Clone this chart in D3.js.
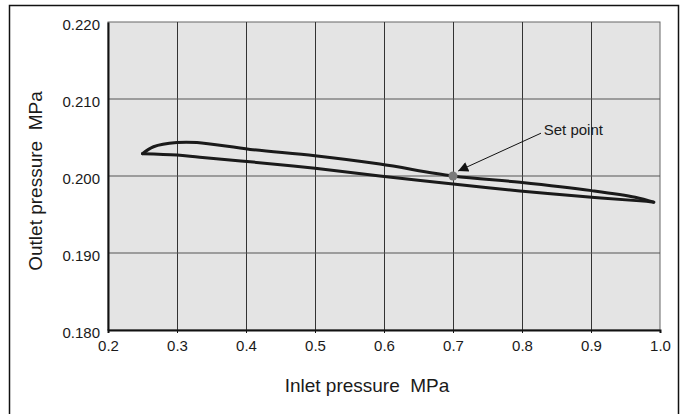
<!DOCTYPE html>
<html>
<head>
<meta charset="utf-8">
<script src="https://cdn.jsdelivr.net/npm/d3@7"></script>
<style>
  body { margin: 0; background: #fff; }
  text { font-family: "Liberation Sans", Arial, sans-serif; fill: #1a1a1a; }
</style>
</head>
<body>
<div id="chart"></div>
<script>
// upper branch of the loop (rising pressure), left to right
var upperX = [0.250, 0.266, 0.300, 0.329, 0.406, 0.500, 0.594, 0.700, 0.797, 0.901, 0.964, 0.991];
var upperY = [0.2029, 0.2038, 0.20435, 0.20435, 0.20345, 0.20263, 0.20155, 0.2000, 0.19918, 0.1981, 0.19724, 0.1966];
// lower branch, left to right
var lowerX = [0.250, 0.300, 0.333, 0.406, 0.500, 0.594, 0.700, 0.797, 0.901, 0.971, 0.991];
var lowerY = [0.2029, 0.20272, 0.20242, 0.20185, 0.2010, 0.2000, 0.19897, 0.19806, 0.19724, 0.19677, 0.1966];

var xTicks = [0.2, 0.3, 0.4, 0.5, 0.6, 0.7, 0.8, 0.9, 1.0];
var yTicks = [0.180, 0.190, 0.200, 0.210, 0.220];
var setPoint = [0.7, 0.200];
var setLabel = "Set point";

var W = 687, H = 414;
var margin = {left: 108, top: 22, right: 27, bottom: 84};
var width = W - margin.left - margin.right;
var height = H - margin.top - margin.bottom;

var x = d3.scaleLinear().domain([0.2, 1.0]).range([0, width]);
var y = d3.scaleLinear().domain([0.180, 0.220]).range([height, 0]);

var svg = d3.select("#chart").append("svg")
  .attr("width", W)
  .attr("height", H);

// outer frame, bottom edge runs off the picture
svg.append("path")
  .attr("d", "M9.5," + (H + 2) + "V5.5H678.5V" + (H + 2))
  .attr("fill", "none")
  .attr("stroke", "#111")
  .attr("stroke-width", 1.5);

var g = svg.append("g")
  .attr("transform", "translate(" + margin.left + "," + margin.top + ")");

g.append("rect")
  .attr("width", width)
  .attr("height", height)
  .attr("fill", "#e4e4e4")
  .attr("stroke", "#666")
  .attr("stroke-width", 1);

g.selectAll(".vgrid")
  .data(xTicks.slice(1, -1))
  .enter().append("line")
  .attr("class", "vgrid")
  .attr("x1", function(d) { return Math.round(x(d)) + 0.5; })
  .attr("x2", function(d) { return Math.round(x(d)) + 0.5; })
  .attr("y1", 0)
  .attr("y2", height)
  .attr("stroke", "#333");

g.selectAll(".hgrid")
  .data(yTicks.slice(1, -1))
  .enter().append("line")
  .attr("class", "hgrid")
  .attr("x1", 0)
  .attr("x2", width)
  .attr("y1", function(d) { return y(d); })
  .attr("y2", function(d) { return y(d); })
  .attr("stroke", "#555");

// left and bottom axes
var xAxis = d3.axisBottom(x).tickValues(xTicks).tickSize(3).tickFormat(d3.format(".1f"));
var yAxis = d3.axisLeft(y).tickValues(yTicks).tickSize(0).tickFormat(d3.format(".3f"));

var gx = g.append("g")
  .attr("transform", "translate(0," + height + ")")
  .call(xAxis);
gx.select(".domain").attr("stroke", "#111").attr("stroke-width", 2);
gx.selectAll(".tick line").attr("stroke", "#111");
gx.selectAll(".tick text")
  .attr("y", 10)
  .attr("font-size", "15px")
  .attr("fill", "#1a1a1a");

var gy = g.append("g").call(yAxis);
gy.select(".domain").attr("stroke", "#111").attr("stroke-width", 2);
gy.selectAll(".tick text")
  .attr("x", -8)
  .attr("dy", "0.5em")
  .attr("font-size", "15px")
  .attr("fill", "#1a1a1a");
gx.attr("font-family", null);
gy.attr("font-family", null);

// curves
var line = d3.line()
  .x(function(d) { return x(d[0]); })
  .y(function(d) { return y(d[1]); })
  .curve(d3.curveCatmullRom.alpha(0.5));

var upper = d3.zip(upperX, upperY);
var lower = d3.zip(lowerX, lowerY);

[upper, lower].forEach(function(pts) {
  g.append("path")
    .datum(pts)
    .attr("d", line)
    .attr("fill", "none")
    .attr("stroke", "#1a1a1a")
    .attr("stroke-width", 3)
    .attr("stroke-linejoin", "round")
    .attr("stroke-linecap", "round");
});

// set point annotation
svg.append("defs").append("marker")
  .attr("id", "head")
  .attr("viewBox", "0 0 10 10")
  .attr("refX", 10)
  .attr("refY", 5)
  .attr("markerWidth", 14)
  .attr("markerHeight", 10)
  .attr("markerUnits", "userSpaceOnUse")
  .attr("orient", "auto")
  .append("path")
  .attr("d", "M0,0L10,5L0,10Z")
  .attr("fill", "#111");

g.append("line")
  .attr("x1", x(0.8275))
  .attr("y1", y(0.20556))
  .attr("x2", x(0.7075))
  .attr("y2", y(0.20065))
  .attr("stroke", "#111")
  .attr("stroke-width", 1)
  .attr("marker-end", "url(#head)");

g.append("circle")
  .attr("cx", x(setPoint[0]))
  .attr("cy", y(setPoint[1]))
  .attr("r", 4.5)
  .attr("fill", "#7a7a7a");

g.append("text")
  .attr("x", x(0.8315))
  .attr("y", y(0.2053))
  .attr("font-size", "15px")
  .text(setLabel);

// axis titles
svg.append("text")
  .attr("x", 367)
  .attr("y", 392)
  .attr("text-anchor", "middle")
  .attr("font-size", "19px")
  .text("Inlet pressure\u00a0\u00a0MPa");

svg.append("text")
  .attr("transform", "translate(42," + 181 + ") rotate(-90)")
  .attr("text-anchor", "middle")
  .attr("font-size", "19px")
  .text("Outlet pressure\u00a0\u00a0MPa");
</script>
</body>
</html>
